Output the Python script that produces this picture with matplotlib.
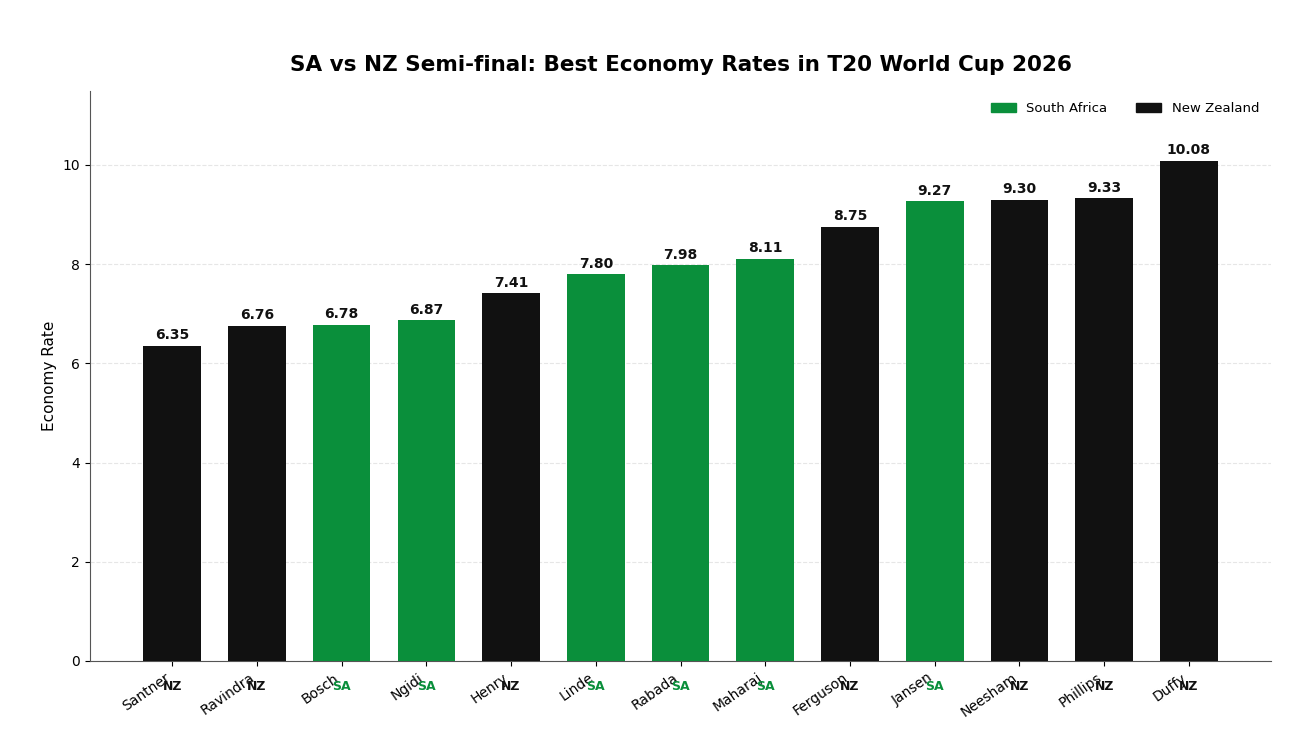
import matplotlib
matplotlib.use("Agg")
import matplotlib.pyplot as plt
from matplotlib.patches import Patch

players = ["Santner", "Ravindra", "Bosch", "Ngidi", "Henry", "Linde", "Rabada",
           "Maharaj", "Ferguson", "Jansen", "Neesham", "Phillips", "Duffy"]
teams = ["NZ", "NZ", "SA", "SA", "NZ", "SA", "SA", "SA", "NZ", "SA", "NZ", "NZ", "NZ"]
economy = [6.35, 6.76, 6.78, 6.87, 7.41, 7.80, 7.98, 8.11, 8.75, 9.27, 9.30, 9.33, 10.08]

SA_COLOR = "#0a8f3b"
NZ_COLOR = "#111111"
colors = [SA_COLOR if t == "SA" else NZ_COLOR for t in teams]

fig, ax = plt.subplots(figsize=(13, 7.36), dpi=100)
fig.subplots_adjust(left=0.069, right=0.978, top=0.877, bottom=0.102)

x = list(range(len(players)))
ax.bar(x, economy, width=0.68, color=colors, zorder=3)

for xi, v in zip(x, economy):
    ax.text(xi, v + 0.07, f"{v:.2f}", ha="center", va="bottom",
            fontsize=10, fontweight="bold", color="#111111")

ax.set_xticks(x)
ax.set_xticklabels(players, rotation=35, ha="right", fontsize=10)
for xi, t, c in zip(x, teams, colors):
    ax.text(xi, -0.045, t, transform=ax.get_xaxis_transform(), ha="center", va="center",
            fontsize=9, fontweight="bold", color=c)

ax.set_ylim(0, 11.5)
ax.set_ylabel("Economy Rate", fontsize=11)
ax.set_title("SA vs NZ Semi-final: Best Economy Rates in T20 World Cup 2026",
             fontsize=15.5, fontweight="bold", pad=14)
ax.yaxis.grid(True, linestyle="--", color="#e6e6e6", linewidth=0.8, zorder=0)
ax.set_axisbelow(True)
for s in ["top", "right"]:
    ax.spines[s].set_visible(False)
ax.spines["left"].set_color("#555555")
ax.spines["bottom"].set_color("#555555")

handles = [Patch(color=SA_COLOR, label="South Africa"), Patch(color=NZ_COLOR, label="New Zealand")]
ax.legend(handles=handles, loc="upper right", ncol=2, frameon=False, fontsize=9.5,
          handlelength=1.9, handleheight=0.7, columnspacing=2.2)

fig.savefig("out.png", dpi=100)
